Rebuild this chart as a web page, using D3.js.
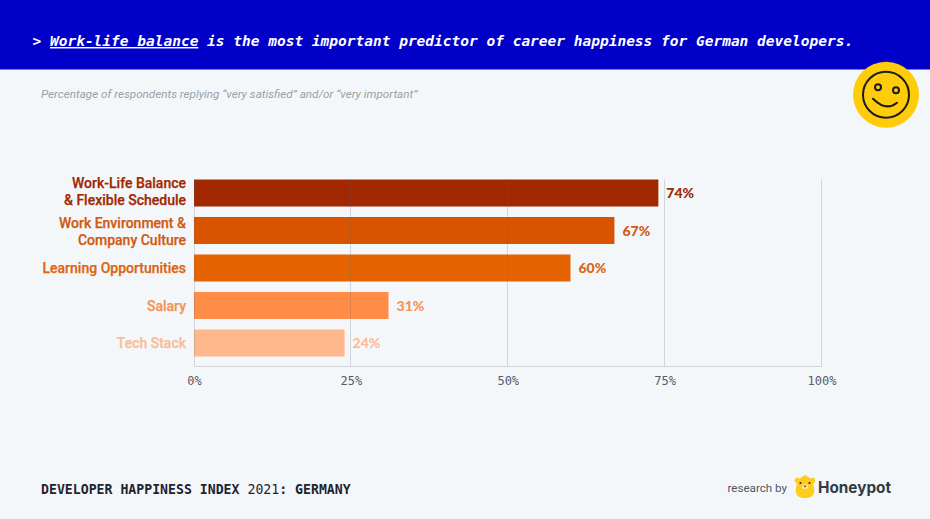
<!DOCTYPE html>
<html>
<head>
<meta charset="utf-8">
<script src="https://cdn.jsdelivr.net/npm/d3@7"></script>
<style>
  html, body { margin: 0; padding: 0; background: #f4f7fa; }
  svg { display: block; }
  text { font-family: Roboto, sans-serif; }
  .mono, .mono text { font-family: "DejaVu Sans Mono", monospace; }
</style>
</head>
<body>
<div id="chart"></div>
<script>
const categories = ['Work-Life Balance\n& Flexible Schedule', 'Work Environment &\nCompany Culture', 'Learning Opportunities', 'Salary', 'Tech Stack'];
const values = [74, 67, 60, 31, 24];
const barColors = ['#a12800', '#d95400', '#e56300', '#ff8c47', '#ffb88e'];
const labelColors = ['#a12800', '#d25a12', '#dd6410', '#f39356', '#fbbc96'];
const ticks = [0, 25, 50, 75, 100];

const width = 930;
const height = 519;
const margin = { top: 179.5, right: 108.5, bottom: 153, left: 194 };
const barsBottom = 356.5;
const axisY = height - margin.bottom;

const svg = d3.select('#chart').append('svg')
  .attr('width', width)
  .attr('height', height);

// header band
svg.append('rect').attr('width', width).attr('height', 69.5).attr('fill', '#0000c8');

const title = svg.append('text')
  .attr('class', 'mono')
  .attr('x', 32.5)
  .attr('y', 46)
  .attr('fill', '#fff')
  .attr('font-size', 14.5)
  .attr('font-style', 'italic')
  .attr('font-weight', 700)
  .style('font-family', '"DejaVu Sans Mono", monospace');
title.append('tspan').text('> ');
title.append('tspan').attr('text-decoration', 'underline').text('Work-life balance');
title.append('tspan').text(' is the most important predictor of career happiness for German developers.');

svg.append('text')
  .attr('x', 41)
  .attr('y', 98)
  .attr('fill', '#9a9ea6')
  .attr('font-size', 11.66)
  .attr('font-style', 'italic')
  .text('Percentage of respondents replying “very satisfied” and/or “very important”');

// smiley badge
const face = svg.append('g').attr('transform', 'translate(886,94.7)');
face.append('circle').attr('r', 33).attr('fill', '#ffcc0a');
face.append('circle').attr('r', 23).attr('fill', 'none').attr('stroke', '#1c1c1c').attr('stroke-width', 2);
face.append('circle').attr('cx', -8).attr('cy', -7.5).attr('r', 3).attr('fill', 'none').attr('stroke', '#1c1c1c').attr('stroke-width', 2);
face.append('circle').attr('cx', 10).attr('cy', -4.5).attr('r', 3).attr('fill', 'none').attr('stroke', '#1c1c1c').attr('stroke-width', 2);
face.append('path').attr('d', 'M-13,4 Q0,17 11,8').attr('fill', 'none').attr('stroke', '#1c1c1c').attr('stroke-width', 2).attr('stroke-linecap', 'round');

const x = d3.scaleLinear().domain([0, 100]).range([margin.left, width - margin.right]);
const y = d3.scaleBand().domain(categories).range([margin.top, barsBottom]).paddingInner(0.28);

svg.selectAll('.bar')
  .data(categories)
  .join('rect')
  .attr('class', 'bar')
  .attr('x', x(0))
  .attr('y', d => y(d))
  .attr('width', (d, i) => x(values[i]) - x(0))
  .attr('height', y.bandwidth())
  .attr('fill', (d, i) => barColors[i]);

// grid goes over the bars, it shows through as a darker line
svg.selectAll('.grid')
  .data(ticks)
  .join('line')
  .attr('class', 'grid')
  .attr('x1', d => Math.floor(x(d)) + 0.5)
  .attr('x2', d => Math.floor(x(d)) + 0.5)
  .attr('y1', margin.top)
  .attr('y2', axisY)
  .attr('stroke', '#5c6470')
  .attr('stroke-opacity', 0.22);

const xAxis = svg.append('g')
  .attr('class', 'mono')
  .attr('transform', `translate(0,${axisY})`)
  .call(d3.axisBottom(x).tickValues(ticks).tickSize(0).tickPadding(10).tickFormat(d => d + '%'));
xAxis.select('.domain').attr('stroke', '#5c6470').attr('stroke-opacity', 0.22);
xAxis.selectAll('text').attr('font-size', 12).attr('fill', '#555c68');

// two line labels don't sit quite centred on their bars in the original
const labelShift = [-1.5, 0.75, 0, 0, 0];

const catLabels = svg.selectAll('.cat')
  .data(categories)
  .join('text')
  .attr('class', 'cat')
  .attr('text-anchor', 'end')
  .attr('font-size', 14)
  .attr('font-weight', 500)
  .attr('stroke-width', 0.25)
  .attr('stroke', (d, i) => labelColors[i])
  .attr('fill', (d, i) => labelColors[i]);
catLabels.each(function(d, n) {
  const lines = d.split('\n');
  const mid = y(d) + y.bandwidth() / 2 + labelShift[n];
  d3.select(this).selectAll('tspan')
    .data(lines)
    .join('tspan')
    .attr('x', x(0) - 8)
    .attr('y', (l, i) => mid + 5 + (i - (lines.length - 1) / 2) * 17)
    .text(l => l);
});

svg.selectAll('.val')
  .data(categories)
  .join('text')
  .attr('class', 'val')
  .attr('x', (d, i) => x(values[i]) + 8)
  .attr('y', d => y(d) + y.bandwidth() / 2 + 5)
  .attr('font-size', 14)
  .attr('font-weight', 900)
  .attr('fill', (d, i) => labelColors[i])
  .style('font-family', 'Lato, sans-serif')
  .text((d, i) => values[i] + '%');

// footer
const foot = svg.append('text')
  .attr('x', 41)
  .attr('y', 494)
  .attr('fill', '#1e2430')
  .attr('font-size', 13.2)
  .attr('font-weight', 700)
  .style('font-family', '"DejaVu Sans Mono", monospace');
foot.append('tspan').text('DEVELOPER HAPPINESS INDEX ');
foot.append('tspan').attr('font-weight', 400).text('2021');
foot.append('tspan').text(': GERMANY');

svg.append('text')
  .attr('x', 787)
  .attr('y', 492)
  .attr('text-anchor', 'end')
  .attr('font-size', 11.6)
  .attr('fill', '#4d5460')
  .text('research by');

// honeypot bear logo
const bear = svg.append('g').attr('transform', 'translate(805,487)');
bear.append('circle').attr('cx', -7.5).attr('cy', -6.5).attr('r', 2.8).attr('fill', '#ffcb1f');
bear.append('circle').attr('cx', 7.5).attr('cy', -6.5).attr('r', 2.8).attr('fill', '#ffcb1f');
bear.append('path')
  .attr('d', 'M-7,-7 Q-4,-10 0,-12 Q4,-10 7,-7 Q10,2 9,6 Q8,11 0,11 Q-8,11 -9,6 Q-10,2 -7,-7Z')
  .attr('fill', '#ffcb1f');
bear.append('ellipse').attr('cx', 0).attr('cy', -0.5).attr('rx', 3).attr('ry', 2.5).attr('fill', '#ffe9a0');
bear.append('circle').attr('cx', -4.5).attr('cy', -4).attr('r', 1.1).attr('fill', '#2c2c2c');
bear.append('circle').attr('cx', 4.5).attr('cy', -4).attr('r', 1.1).attr('fill', '#2c2c2c');
bear.append('path').attr('d', 'M-1.5,-1.5 L1.5,-1.5 L0,0.8Z').attr('fill', '#6b4e10');

svg.append('text')
  .attr('x', 818)
  .attr('y', 493)
  .attr('font-size', 15.3)
  .attr('font-weight', 700)
  .attr('fill', '#333a44')
  .style('font-family', 'Inter, sans-serif')
  .text('Honeypot');
</script>
</body>
</html>
